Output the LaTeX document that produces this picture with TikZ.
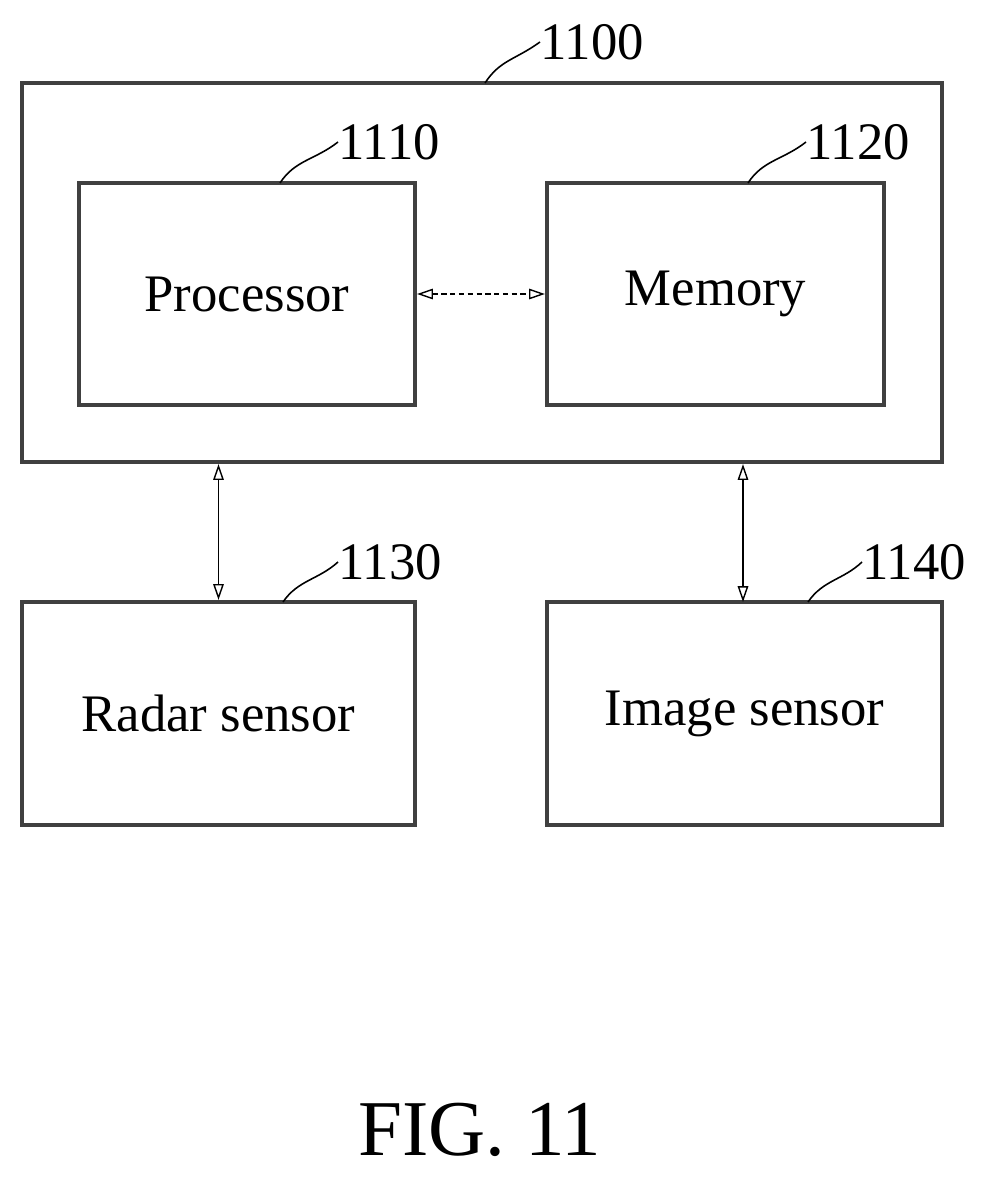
\documentclass[tikz,border=0pt]{standalone}
\usepackage{fontspec}
\setmainfont{Liberation Serif}
\usetikzlibrary{arrows.meta}
\tikzset{
  blk/.style={draw=black!75, line width=2.4pt, inner sep=0pt},
  lead/.style={line width=0.9pt},
  ref/.style={font=\fontsize{30}{30}\selectfont, anchor=west, inner sep=0pt},
  link/.style={line width=0.8pt, {Triangle[open,length=9pt,width=6pt]}-{Triangle[open,length=9pt,width=6pt]}}
}
\begin{document}
\begin{tikzpicture}[x=0.02cm, y=-0.02cm]
  \useasboundingbox (0,0) rectangle (988,1179);
  \node[blk, minimum width=920*0.02cm, minimum height=379*0.02cm] (sys) at (482,272.5) {};
  \node[blk, minimum width=336*0.02cm, minimum height=222*0.02cm, font=\fontsize{30}{30}\selectfont] (proc) at (247,294) {Processor};
  \node[blk, minimum width=337*0.02cm, minimum height=222*0.02cm, font=\fontsize{30}{30}\selectfont] (mem) at (715.5,294) {Memory};
  \node[blk, minimum width=393*0.02cm, minimum height=223*0.02cm, font=\fontsize{30}{30}\selectfont] (radar) at (218.5,713.5) {Radar sensor};
  \node[blk, minimum width=395*0.02cm, minimum height=223*0.02cm, font=\fontsize{30}{30}\selectfont] (img) at (744.5,713.5) {Image sensor};
  \node[font=\fontsize{45}{45}\selectfont] (fig) at (480,1130) {FIG. 11};
  % reference numerals
  \node[ref] (n1100) at (540,42) {1100};
  \node[ref] (n1110) at (338,142) {1110};
  \node[ref] (n1120) at (806,142) {1120};
  \node[ref] (n1130) at (338,562) {1130};
  \node[ref] (n1140) at (862,562) {1140};
  \draw[lead] (485,83) .. controls (500,60) and (515,60) .. (n1100.west);
  \draw[lead] (280,183) .. controls (295,160) and (315,160) .. (n1110.west);
  \draw[lead] (748,183) .. controls (763,160) and (783,160) .. (n1120.west);
  \draw[lead] (283,602) .. controls (298,580) and (318,580) .. (n1130.west);
  \draw[lead] (808,602) .. controls (823,580) and (843,580) .. (n1140.west);
  % connections
  \draw[link, densely dashed] (proc.east) -- (mem.west);
  \draw[link] (sys.south -| radar.north) -- (radar.north);
  \draw[link] (sys.south -| 743,0) -- (743,602);
\end{tikzpicture}
\end{document}
